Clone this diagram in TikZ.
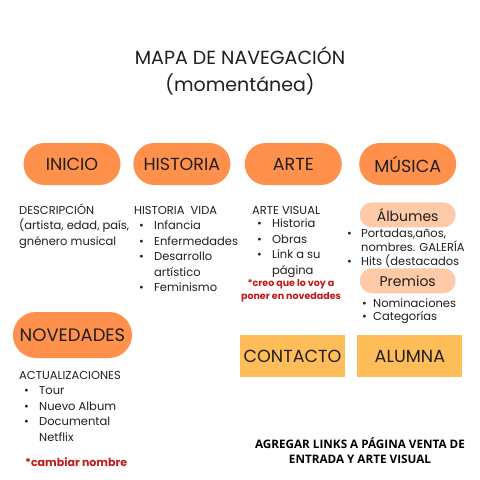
\documentclass[tikz,border=0pt]{standalone}
\usepackage{fontspec}
\setmainfont{Poppins}
\newfontfamily\opensans{Open Sans}
\usetikzlibrary{positioning}
\definecolor{navorange}{HTML}{FF914D}
\definecolor{navpeach}{HTML}{FFCAA8}
\definecolor{navyellow}{HTML}{FFBD59}
\definecolor{navred}{HTML}{BF1A1A}
\definecolor{navtext}{HTML}{1F1F1F}
% bullet with fixed width, text starts after it
\newcommand{\itm}[1][20pt]{\makebox[#1][l]{\hspace{5pt}\textbullet}}

\begin{document}
\begin{tikzpicture}[
  x=1pt, y=1pt,
  pill/.style={rectangle, rounded corners=20.9pt, fill=navorange, minimum width=97pt, minimum height=42pt, inner sep=0pt, text=navtext, font=\fontsize{17.5}{19}\selectfont},
  subpill/.style={rectangle, rounded corners=12.4pt, fill=navpeach, minimum width=96pt, minimum height=25pt, inner sep=0pt, text=navtext, font=\fontsize{14}{16}\selectfont},
  tabbox/.style={rectangle, fill=navyellow, minimum width=105pt, minimum height=42pt, inner sep=0pt, text=navtext, font=\fontsize{17.5}{19}\selectfont},
  body/.style={anchor=north west, inner sep=0pt, text=navtext, font=\fontsize{11.5}{15.5}\selectfont},
  note/.style={inner sep=0pt, text=navred, font=\bfseries\fontsize{9.5}{12.5}\selectfont, align=center},
]
\useasboundingbox[fill=white] (0,0) rectangle (480,-480);

% Title
\node[font=\fontsize{19}{27}\selectfont, align=center, text=navtext] (title) at (240,-71) {MAPA DE NAVEGACIÓN\\(momentánea)};

% Main sections
\node[pill] (inicio) at (72,-164) {INICIO};
\node[pill, right=12.5pt of inicio] (historia) {HISTORIA};
\node[pill, right=14pt of historia] (arte) {ARTE};
\node[pill, right=17pt of arte] (musica) {MÚSICA};

% Inicio
\node[body] (iniciotxt) at (19,-203) {\begin{tabular}[t]{@{}l@{}}
DESCRIPCIÓN\\
(artista, edad, país,\\
gnénero musical
\end{tabular}};

% Historia
\node[body] (historiatxt) at (134,-203) {\begin{tabular}[t]{@{}l@{}}
HISTORIA\ \ VIDA\\
\itm Infancia\\
\itm Enfermedades\\
\itm Desarrollo\\
\hspace*{20pt}artístico\\
\itm Feminismo
\end{tabular}};

% Arte
\node[body] (artetxt) at (252,-203) {\begin{tabular}[t]{@{}l@{}}
ARTE VISUAL\\[-2pt]
\itm Historia\\
\itm Obras\\
\itm Link a su\\
\hspace*{20pt}página
\end{tabular}};
\node[note] (artenote) at (291,-290.5) {*creo que lo voy a\\poner en novedades};

% Musica
\node[subpill, below=17pt of musica] (albumes) {Álbumes};
\node[body, font=\fontsize{11.5}{12}\selectfont] (albumestxt) at (342,-228.6) {\begin{tabular}[t]{@{}l@{}}
\itm[19pt]Portadas,años,\\
\hspace*{19pt}nombres. GALERÍA\\
\itm[19pt]Hits (destacados
\end{tabular}};
\node[subpill, below=40.5pt of albumes] (premios) {Premios};
\node[body, font=\fontsize{11.5}{12}\selectfont] (premiostxt) at (357,-299) {\begin{tabular}[t]{@{}l@{}}
\itm[16pt]Nominaciones\\
\itm[16pt]Categorías
\end{tabular}};

% Novedades
\node[pill, minimum width=119pt, minimum height=46pt, rounded corners=22.9pt, font=\fontsize{18}{20}\selectfont] (novedades) at (72.5,-335) {NOVEDADES};
\node[body] (novedadestxt) at (19,-368) {\begin{tabular}[t]{@{}l@{}}
ACTUALIZACIONES\\
\itm Tour\\
\itm Nuevo Album\\
\itm Documental\\
\hspace*{20pt}Netflix
\end{tabular}};
\node[note, anchor=west, font=\bfseries\fontsize{11}{12}\selectfont] (novedadesnote) at (25,-462) {*cambiar nombre};

% Contacto / alumna
\node[tabbox] (contacto) at (292.5,-356) {CONTACTO};
\node[tabbox, right=12pt of contacto] (alumna) {ALUMNA};

% Pending note
\node[align=center, text=black, font=\opensans\bfseries\fontsize{11.7}{15}\selectfont] (pendiente) at (360,-450.5) {AGREGAR LINKS A PÁGINA VENTA DE\\ENTRADA Y ARTE VISUAL};

\end{tikzpicture}
\end{document}
